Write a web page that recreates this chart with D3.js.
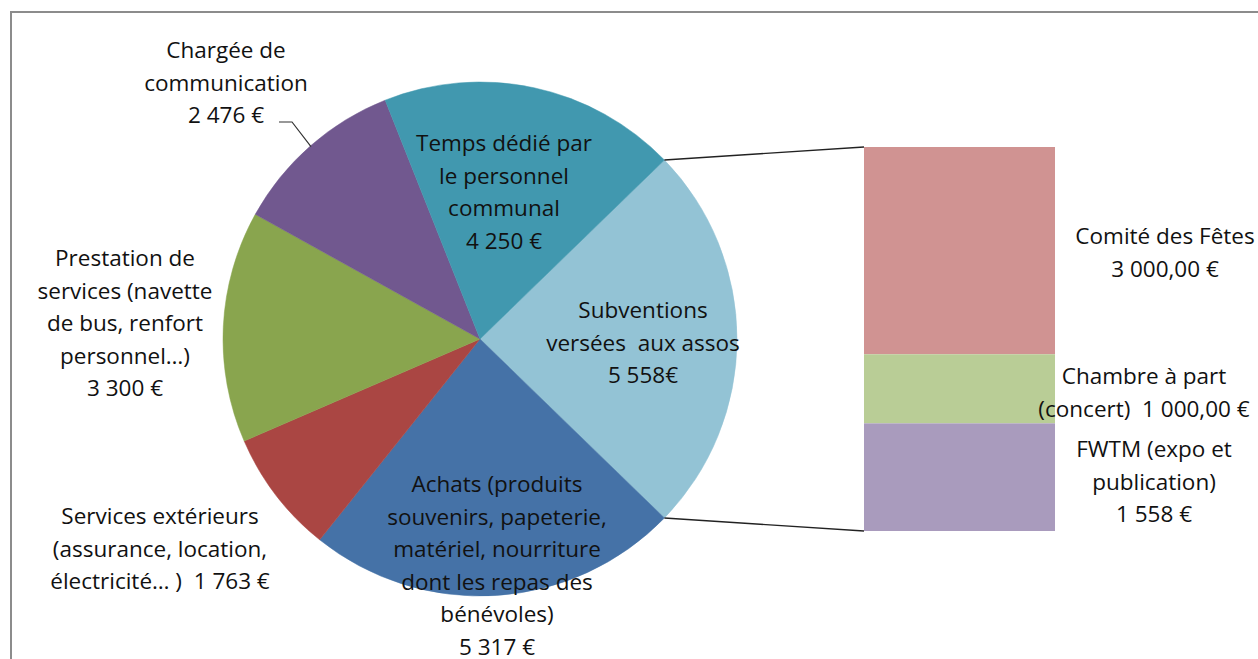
<!DOCTYPE html>
<html>
<head>
<meta charset="utf-8">
<script src="https://cdn.jsdelivr.net/npm/d3@7"></script>
<style>
  body { margin: 0; background: #fff; }
  text { font-family: "Open Sans", "Noto Sans", sans-serif; font-size: 22.5px; fill: #111; white-space: pre; }
</style>
</head>
<body>
<svg id="chart"></svg>
<script>
// main pie
const categories = ['Subventions versées aux assos', 'Achats', 'Services extérieurs',
  'Prestation de services', 'Chargée de communication', 'Temps dédié par le personnel communal'];
const values = [5558, 5317, 1763, 3300, 2476, 4250];
const labelLines = [
  ['Subventions', 'versées  aux assos', '5 558€'],
  ['Achats (produits', 'souvenirs, papeterie,', 'matériel, nourriture', 'dont les repas des', 'bénévoles)', '5 317 €'],
  ['Services extérieurs', '(assurance, location,', 'électricité… )  1 763 €'],
  ['Prestation de', 'services (navette', 'de bus, renfort', 'personnel…)', '3 300 €'],
  ['Chargée de', 'communication', '2 476 €'],
  ['Temps dédié par', 'le personnel', 'communal', '4 250 €']
];
const colors = ['#93C3D5', '#4572A7', '#AA4643', '#89A54E', '#71588F', '#4198AF'];

// secondary bar (breakdown of subventions)
const subCategories = ['Comité des Fêtes', 'Chambre à part (concert)', 'FWTM (expo et publication)'];
const subValues = [3000, 1000, 1558];
const subLabelLines = [
  ['Comité des Fêtes', '3 000,00 €'],
  ['Chambre à part', '(concert)  1 000,00 €'],
  ['FWTM (expo et', 'publication)', '1 558 €']
];
const subColors = ['#D09392', '#B9CD96', '#A99BBD'];

const W = 1258, H = 659;
const svg = d3.select('#chart').attr('width', W).attr('height', H);

// chart frame (continues beyond the picture)
svg.append('path')
  .attr('d', `M11,${H + 5} V12 H${W + 5}`)
  .attr('fill', 'none').attr('stroke', '#8c8c8c').attr('stroke-width', 2);

const cx = 480, cy = 339, R = 257;
const total = d3.sum(values);
const firstAngle = values[0] / total * 2 * Math.PI;

const pie = d3.pie().sort(null)
  .startAngle(Math.PI / 2 - firstAngle / 2)
  .endAngle(Math.PI / 2 - firstAngle / 2 + 2 * Math.PI);
const arcs = pie(values);
const arc = d3.arc().innerRadius(0).outerRadius(R);

const g = svg.append('g').attr('transform', `translate(${cx},${cy})`);
g.selectAll('path.slice')
  .data(arcs)
  .enter().append('path')
  .attr('class', 'slice')
  .attr('d', arc)
  .attr('fill', (d, i) => colors[i])
  .attr('stroke', (d, i) => colors[i])
  .attr('stroke-width', 0.5);

// secondary stacked bar
const barX = 864, barW = 191, barTop = 147, barBottom = 531;
const y = d3.scaleLinear().domain([0, d3.sum(subValues)]).range([barTop, barBottom]);
const stack = d3.cumsum([0, ...subValues]);
svg.selectAll('rect.sub')
  .data(subValues)
  .enter().append('rect')
  .attr('class', 'sub')
  .attr('x', barX)
  .attr('width', barW)
  .attr('y', (d, i) => y(stack[i]))
  .attr('height', d => y(d) - y(0))
  .attr('fill', (d, i) => subColors[i]);

// connector lines from edges of first slice to bar corners
const pt = (a, r) => [cx + r * Math.sin(a), cy - r * Math.cos(a)];
const p1 = pt(arcs[0].startAngle, R), p2 = pt(arcs[0].endAngle, R);
svg.append('line').attr('x1', p1[0]).attr('y1', p1[1]).attr('x2', barX).attr('y2', y(0))
  .attr('stroke', '#222').attr('stroke-width', 1.3);
svg.append('line').attr('x1', p2[0]).attr('y1', p2[1]).attr('x2', barX).attr('y2', y(d3.sum(subValues)))
  .attr('stroke', '#222').attr('stroke-width', 1.3);

// label placement (centre x, baseline of first line)
const lineH = 32.5;
const pieLabelPos = [[643, 318], [497, 492], [160, 524], [125, 266], [226, 58], [504, 151]];
const subLabelPos = [[1165, 244], [1144, 384], [1154, 457]];

function drawLabel(lines, pos) {
  const t = svg.append('text').attr('text-anchor', 'middle');
  lines.forEach((l, k) => {
    t.append('tspan').attr('x', pos[0]).attr('y', pos[1] + k * lineH).text(l);
  });
}
labelLines.forEach((lines, i) => drawLabel(lines, pieLabelPos[i]));
subLabelLines.forEach((lines, i) => drawLabel(lines, subLabelPos[i]));

// leader line for the "Chargée de communication" label
const leadA = (arcs[4].startAngle + arcs[4].endAngle) / 2;
const leadEnd = pt(leadA, R - 1);
svg.append('polyline')
  .attr('points', `279,122 292,122 ${leadEnd[0]},${leadEnd[1]}`)
  .attr('fill', 'none').attr('stroke', '#333').attr('stroke-width', 1.2);
</script>
</body>
</html>
